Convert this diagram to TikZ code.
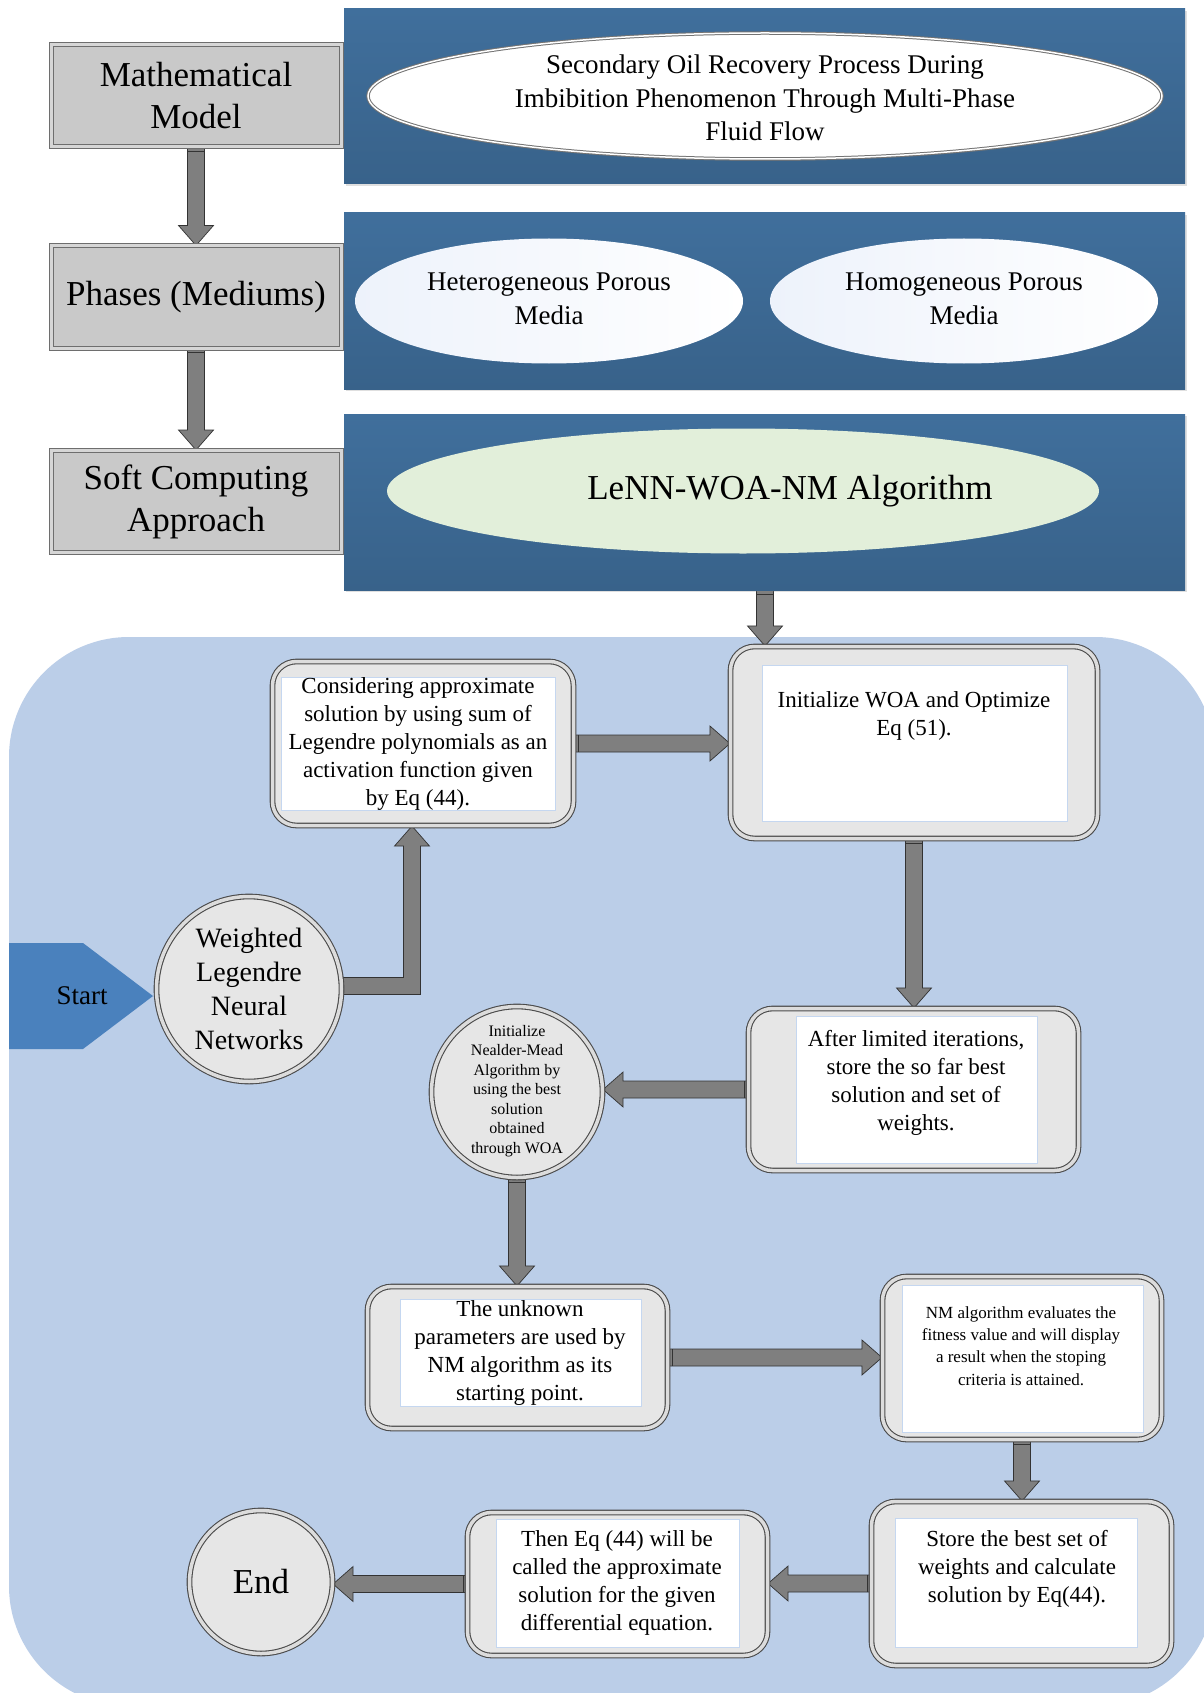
\documentclass[tikz,border=0pt]{standalone}
\usepackage{fontspec}
\setmainfont{Liberation Serif}
\usetikzlibrary{calc,shadows,shapes.geometric}
\definecolor{panA}{RGB}{64,111,156}
\definecolor{panB}{RGB}{56,98,138}
\definecolor{mmfill}{RGB}{201,201,201}
\definecolor{mmline}{RGB}{110,110,110}
\definecolor{mmband}{RGB}{214,214,214}
\definecolor{bgblue}{RGB}{187,206,232}
\definecolor{rfill}{RGB}{230,230,230}
\definecolor{rline}{RGB}{75,75,75}
\definecolor{rband}{RGB}{220,220,220}
\definecolor{innerline}{RGB}{197,215,240}
\definecolor{arrfill}{RGB}{127,127,127}
\definecolor{startblue}{RGB}{74,129,189}
\definecolor{lenfill}{RGB}{226,239,218}
\definecolor{ellblue}{RGB}{237,242,251}
\newcommand\myfs[2]{\fontsize{#1}{#2}\selectfont}
\pgfdeclarelayer{bg}
\pgfdeclarelayer{arr}
\pgfsetlayers{bg,arr,main}
\tikzset{
 panel/.style={rectangle, draw=none, top color=panA, bottom color=panB, minimum width=841pt, minimum height=176pt, inner sep=0pt, drop shadow={opacity=0.25, shadow xshift=1.5pt, shadow yshift=-2pt}},
 graybox/.style={rectangle, fill=mmfill, draw=mmline, line width=1pt, double=mmband, double distance=3pt, minimum width=290pt, minimum height=102pt, inner sep=0pt, font=\myfs{35}{42}, align=center, drop shadow={opacity=0.2, shadow xshift=1pt, shadow yshift=-1.5pt}},
 ovalw/.style={ellipse, fill=white, draw=black!55, line width=1pt, double=white, double distance=1.5pt, inner sep=0pt, drop shadow={opacity=0.3, shadow xshift=1pt, shadow yshift=-2pt}},
 ovalb/.style={ellipse, draw=none, left color=ellblue, right color=white, inner sep=0pt},
 ovalg/.style={ellipse, fill=lenfill, draw=none, inner sep=0pt},
 rbox/.style={rectangle, rounded corners=24pt, fill=rfill, draw=rline, line width=1.1pt, double=rband, double distance=3.5pt, inner sep=0pt, drop shadow={opacity=0.25, shadow xshift=1.5pt, shadow yshift=-2pt}},
 inbox/.style={rectangle, fill=white, draw=innerline, line width=0.7pt, inner sep=0pt},
 rcirc/.style={circle, fill=rfill, draw=rline, line width=1.1pt, double=rband, double distance=3.5pt, inner sep=0pt, drop shadow={opacity=0.25, shadow xshift=1.5pt, shadow yshift=-2pt}},
 txt/.style={align=center, inner sep=0pt, font=\myfs{23}{28}},
 blockarr/.style={fill=arrfill, draw=black!80, line width=0.7pt, line join=miter},
 jointline/.style={draw=black!80, line width=0.6pt}
}
\newcommand\barrow[2]{%
 \coordinate (bs) at (#1);
 \coordinate (bt) at (#2);
 \coordinate (bb) at ($(bt)!20pt!(bs)$);
 \coordinate (bj) at ($(bs)!4pt!(bt)$);
 \filldraw[blockarr] ($(bs)!8.5pt!90:(bt)$) -- ($(bb)!8.5pt!-90:(bs)$) -- ($(bb)!17.5pt!-90:(bs)$) -- (bt) -- ($(bb)!17.5pt!90:(bs)$) -- ($(bb)!8.5pt!90:(bs)$) -- ($(bs)!8.5pt!-90:(bt)$) -- cycle;
 \draw[jointline] ($(bj)!8.5pt!90:(bt)$) -- ($(bj)!8.5pt!-90:(bt)$);
}
\begin{document}
\begin{tikzpicture}[x=1pt,y=-1pt]
\useasboundingbox (0,0) rectangle (1203,1693);
\begin{pgfonlayer}{bg}
\fill[white] (0,0) rectangle (1203,1693);
\fill[bgblue, rounded corners=120pt] (9,637) rectangle (1215,1706);
\end{pgfonlayer}
% top panels
\node[panel, minimum height=175pt] (p1) at (764.5,96.5) {};
\node[panel] (p2) at (764.5,301) {};
\node[panel] (p3) at (764.5,502) {};
\node[graybox] (mm) at (196,96) {Mathematical\\Model};
\node[graybox] (ph) at (196,297) {Phases (Mediums)};
\node[graybox] (sc) at (196,501.5) {Soft Computing\\Approach};
\node[ovalw, minimum width=794pt, minimum height=126pt] (e1) at (765,96) {};
\node[txt, font=\myfs{27}{33.5}] (e1t) at (765,98) {Secondary Oil Recovery Process During\\Imbibition Phenomenon Through Multi-Phase\\Fluid Flow};
\node[ovalb, minimum width=388pt, minimum height=125pt] (het) at (549,301) {};
\node[txt, font=\myfs{27}{33.5}] (hett) at (549,299) {Heterogeneous Porous\\Media};
\node[ovalb, minimum width=388pt, minimum height=125pt] (hom) at (964,301) {};
\node[txt, font=\myfs{27}{33.5}] (homt) at (964,299) {Homogeneous Porous\\Media};
\node[ovalg, minimum width=712pt, minimum height=125pt] (len) at (743,491) {};
\node[txt, font=\myfs{35}{42}] (lent) at (790,491) {LeNN-WOA-NM Algorithm};
% bottom
\fill[startblue] (9,943) -- (83,943) -- (153,996) -- (83,1049) -- (9,1049) -- cycle;
\node[txt, font=\myfs{27}{32}] (start) at (82,996) {Start};
\node[rcirc, minimum size=185pt] (wl) at (249,989) {};
\node[txt, font=\myfs{28}{34}] (wlt) at (249,989) {Weighted\\Legendre\\Neural\\Networks};
\node[rbox, minimum width=301pt, minimum height=164pt] (consO) at (423,743.5) {};
\node[inbox, minimum width=274pt, minimum height=133pt] (consI) at (418,743.5) {};
\node[txt] (consT) at (418,744) {Considering approximate\\solution by using sum of\\Legendre polynomials as an\\activation function given\\by Eq (44).};
\node[rbox, minimum width=367pt, minimum height=192pt] (initO) at (914,742.5) {};
\node[inbox, minimum width=305pt, minimum height=156pt] (initI) at (914.5,743) {};
\node[txt] (initT) at (914,716) {Initialize WOA and Optimize\\Eq (51).};
\node[rbox, minimum width=330pt, minimum height=162pt] (afterO) at (913.5,1089.5) {};
\node[inbox, minimum width=241pt, minimum height=147pt] (afterI) at (916.5,1089.5) {};
\node[txt] (afterT) at (916,1083) {After limited iterations,\\store the so far best\\solution and set of\\weights.};
\node[rcirc, minimum size=171pt] (nmc) at (517,1092) {};
\node[txt, font=\myfs{16}{19.5}] (nmct) at (517,1091) {Initialize\\Nealder-Mead\\Algorithm by\\using the best\\solution\\obtained\\through WOA};
\node[rbox, minimum width=300pt, minimum height=142pt] (unkO) at (517.5,1357.5) {};
\node[inbox, minimum width=241pt, minimum height=107pt] (unkI) at (520.5,1352.5) {};
\node[txt] (unkT) at (520,1353) {The unknown\\parameters are used by\\NM algorithm as its\\starting point.};
\node[rbox, minimum width=279pt, minimum height=163pt] (nmeO) at (1022,1358) {};
\node[inbox, minimum width=241pt, minimum height=147pt] (nmeI) at (1022.5,1358.5) {};
\node[txt, font=\myfs{17}{22.4}] (nmeT) at (1021,1346) {NM algorithm evaluates the\\fitness value and will display\\a result when the stoping\\criteria is attained.};
\node[rbox, minimum width=300pt, minimum height=164pt] (storeO) at (1021.5,1583.5) {};
\node[inbox, minimum width=242pt, minimum height=129pt] (storeI) at (1016,1582.5) {};
\node[txt] (storeT) at (1017,1569) {Store the best set of\\weights and calculate\\solution by Eq(44).};
\node[rbox, minimum width=300pt, minimum height=143pt] (thenO) at (617.5,1584) {};
\node[inbox, minimum width=243pt, minimum height=128pt] (thenI) at (617.5,1583) {};
\node[txt] (thenT) at (617,1583) {Then Eq (44) will be\\called the approximate\\solution for the given\\differential equation.};
\node[rcirc, minimum size=143pt] (endc) at (261,1582) {};
\node[txt, font=\myfs{35}{42}] (endt) at (261,1582) {End};
% arrows
\begin{pgfonlayer}{arr}
\coordinate (a3) at (765,0);
\barrow{mm.south}{ph.north}
\barrow{ph.south}{sc.north}
\barrow{p3.south -| a3}{initO.north -| a3}
\barrow{consO.east}{initO.west |- consO.east}
\barrow{initO.south}{afterO.north -| initO.south}
\barrow{afterO.west}{nmc.east |- afterO.west}
\barrow{nmc.south}{unkO.north -| nmc.south}
\barrow{unkO.east}{nmeO.west |- unkO.east}
\barrow{nmeO.south}{storeO.north -| nmeO.south}
\barrow{storeO.west}{thenO.east |- storeO.west}
\barrow{thenO.west}{endc.east |- thenO.west}
\coordinate (el) at (412,986);
\coordinate (els) at ($(el -| wl.east)+(-4,0)$);
\coordinate (elt) at (el |- consO.south);
\filldraw[blockarr] ($(els)+(0,8.5)$) -- ($(el)+(8.5,8.5)$) -- ($(elt)+(8.5,20)$) -- ($(elt)+(17.5,20)$) -- (elt) -- ($(elt)+(-17.5,20)$) -- ($(elt)+(-8.5,20)$) -- ($(el)+(-8.5,-8.5)$) -- ($(els)+(0,-8.5)$) -- cycle;
\end{pgfonlayer}
\end{tikzpicture}
\end{document}
